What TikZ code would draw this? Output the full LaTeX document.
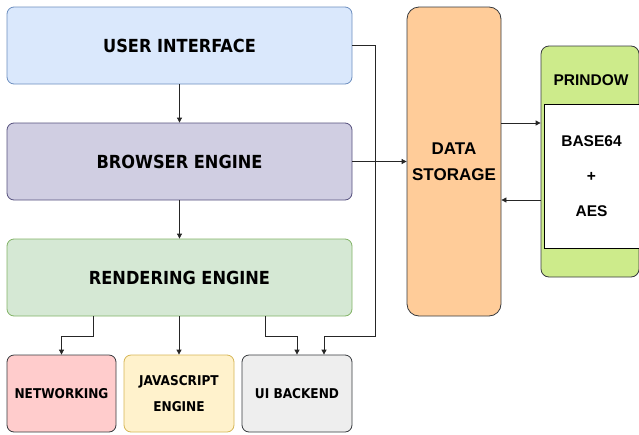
\documentclass[tikz,border=0pt]{standalone}
\usepackage{fontspec}
\usetikzlibrary{arrows.meta,calc}
\newfontfamily\condfont{DejaVu Sans Condensed}
\newfontfamily\arialfont{Liberation Sans}
\definecolor{uifill}{HTML}{DAE8FC}\definecolor{uidraw}{HTML}{6C8EBF}
\definecolor{befill}{HTML}{D0CEE2}\definecolor{bedraw}{HTML}{56517E}
\definecolor{refill}{HTML}{D5E8D4}\definecolor{redraw}{HTML}{82B366}
\definecolor{netfill}{HTML}{FFCCCC}\definecolor{grydraw}{HTML}{36393D}
\definecolor{jsfill}{HTML}{FFF2CC}\definecolor{jsdraw}{HTML}{D6B656}
\definecolor{uibfill}{HTML}{EEEEEE}
\definecolor{dsfill}{HTML}{FFCC99}
\definecolor{prfill}{HTML}{CDEB8B}
\tikzset{
  box/.style={draw, rounded corners=7pt, line width=0.8pt, inner sep=0pt, align=center},
  bigbox/.style={box, minimum width=345pt, minimum height=77pt, text depth=-2pt, font=\condfont\bfseries\fontsize{18}{21}\selectfont},
  smallbox/.style={box, minimum height=77pt, font=\condfont\bfseries\fontsize{13.5}{26}\selectfont},
  arr/.style={draw=black!85, line width=0.8pt, -{Triangle[length=5pt,width=5pt]}},
}
\begin{document}
\begin{tikzpicture}[x=1pt,y=-1pt]
\useasboundingbox (0,0) rectangle (639,434);
\node[bigbox, fill=uifill, draw=uidraw] (UI) at (179.5,45.5) {USER INTERFACE};
\node[bigbox, fill=befill, draw=bedraw] (BE) at (179.5,161.5) {BROWSER ENGINE};
\node[bigbox, fill=refill, draw=redraw] (RE) at (179.5,277.5) {RENDERING ENGINE};
\node[smallbox, minimum width=109pt, fill=netfill, draw=grydraw] (NET) at (61.5,393.5) {NETWORKING};
\node[smallbox, minimum width=110pt, fill=jsfill, draw=jsdraw] (JS) at (179,393.5) {JAVASCRIPT\\ENGINE};
\node[smallbox, minimum width=110pt, fill=uibfill, draw=grydraw] (UIB) at (297,393.5) {UI BACKEND};
\node[box, rounded corners=12pt, minimum width=94pt, minimum height=309pt, fill=dsfill, draw=grydraw,
      font=\arialfont\bfseries\fontsize{17}{26}\selectfont] (DS) at (454,161.5) {DATA\\STORAGE};
\node[box, rounded corners=8pt, minimum width=98pt, minimum height=231pt, fill=prfill, draw=grydraw] (PR) at (590,161.5) {};
\node[font=\arialfont\bfseries\fontsize{15.5}{18}\selectfont, inner sep=0pt] (PRT) at (591,80) {PRINDOW};
\node[draw=black, line width=0.8pt, fill=white, minimum width=95pt, minimum height=144pt, inner sep=0pt, align=center,
      font=\arialfont\bfseries\fontsize{15.5}{35}\selectfont] (INNER) at (591.5,176) {BASE64\\+\\AES};
% coordinates for bends
\coordinate (n1) at (93,336);
\coordinate (u1) at (265,336);
\coordinate (u2) at (375,336);
\coordinate (u3) at (324,336);
\coordinate (p1) at (520,123);
\coordinate (p2) at (520,200);
% connectors
\draw[arr] (UI.south) -- (BE.north);
\draw[arr] (BE.south) -- (RE.north);
\draw[arr] (RE.south -| n1) -- (n1) -| (NET.north);
\draw[arr] (RE.south -| JS.north) -- (JS.north);
\draw[arr] (RE.south -| u1) -- (u1) -| (UIB.north);
\draw[arr] (UI.east) -| (u2) -- (u3) -- (UIB.north -| u3);
\draw[arr] (BE.east) -- (DS.west);
\draw[arr] (DS.east |- p1) -- (PR.west |- p1);
\draw[arr] (PR.west |- p2) -- (DS.east |- p2);
\end{tikzpicture}
\end{document}
